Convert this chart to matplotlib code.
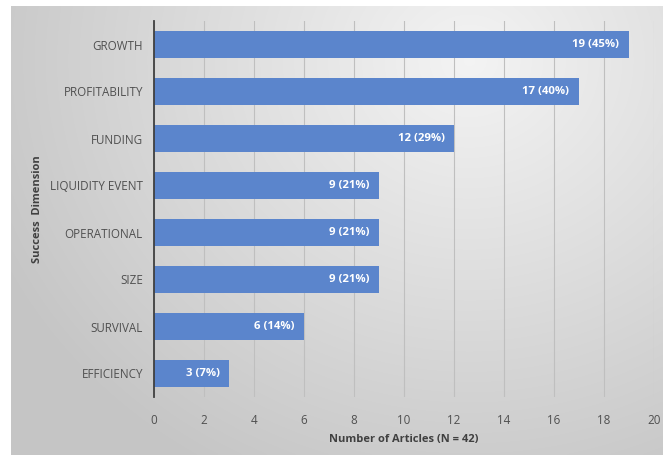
import numpy as np
import matplotlib
matplotlib.use("Agg")
import matplotlib.pyplot as plt

plt.rcParams['font.family'] = ['Open Sans', 'DejaVu Sans']

# data
dims = ["GROWTH", "PROFITABILITY", "FUNDING", "LIQUIDITY EVENT",
        "OPERATIONAL", "SIZE", "SURVIVAL", "EFFICIENCY"]
counts = [19, 17, 12, 9, 9, 9, 6, 3]
pcts = [45, 40, 29, 21, 21, 21, 14, 7]

W, H = 663, 455
fig = plt.figure(figsize=(W / 100, H / 100), dpi=100, facecolor="white")

# radial gradient background (chart area)
bg = fig.add_axes([11 / W, 0, 1 - 11 / W, 1 - 6 / H], zorder=0)
gx, gy = np.meshgrid(np.linspace(11, W, 300), np.linspace(6, H, 220))
d = np.sqrt(((gx - 470) / 520) ** 2 + ((gy - 60) / 470) ** 2)
d = np.clip(d, 0, 1)
grey = 0.955 - 0.18 * d
bg.imshow(np.dstack([grey, grey, grey]), extent=[0, 1, 0, 1], aspect="auto",
          interpolation="bilinear")
bg.axis("off")

ax = fig.add_axes([154 / W, 1 - 397 / H, 500 / W, (397 - 21) / H], zorder=1)
ax.patch.set_alpha(0)

y = np.arange(len(dims))
ax.barh(y, counts, height=0.58, color="#5B85CC", zorder=3)
for yi, c, p in zip(y, counts, pcts):
    ax.text(c - 0.38, yi, f"{c} ({p}%)", ha="right", va="center",
            color="white", fontsize=8.2, fontweight="bold", zorder=4)

ax.set_xlim(0, 20)
ax.set_ylim(len(dims) - 0.5, -0.5)
ax.set_xticks(range(0, 21, 2))
ax.set_yticks(y)
ax.set_yticklabels(dims)
ax.grid(axis="x", color="#BFBFBF", linewidth=0.8, zorder=1)
ax.tick_params(axis="both", length=0, labelsize=8.4, colors="#505050")
ax.tick_params(axis="x", pad=12)
ax.tick_params(axis="y", pad=8)
for s in ["top", "right", "bottom"]:
    ax.spines[s].set_visible(False)
ax.spines["left"].set_color("#404040")
ax.spines["left"].set_linewidth(1.3)
ax.spines["left"].set_zorder(5)

ax.set_xlabel("Number of Articles (N = 42)", fontsize=8, fontweight="bold",
              color="#404040", labelpad=5)
fig.text(38 / W, 1 - 209 / H, "Success  Dimension", rotation=90, ha="center",
         va="center", fontsize=8, fontweight="bold", color="#404040")

fig.savefig("out.png", dpi=100)
